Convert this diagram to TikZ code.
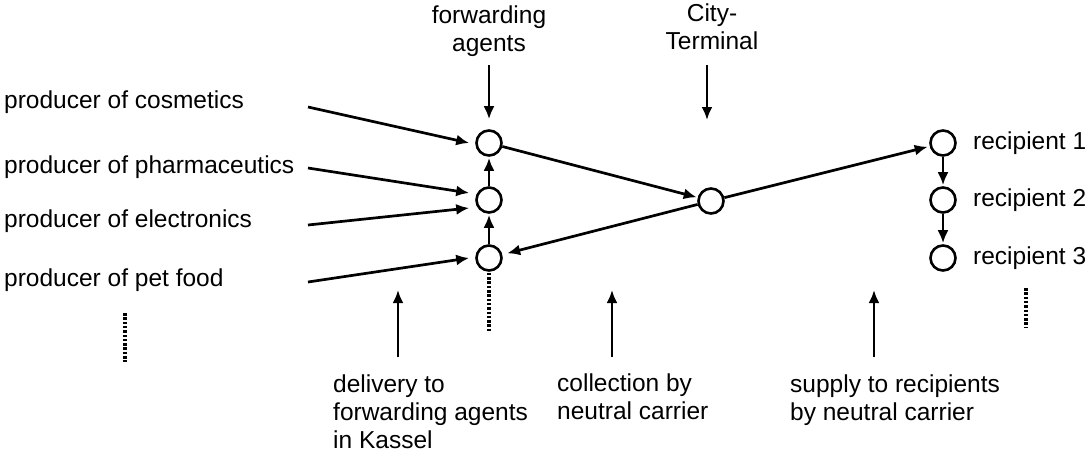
\documentclass[tikz,border=0pt]{standalone}
\usepackage{fontspec}
\setmainfont{Liberation Sans}
\usetikzlibrary{arrows.meta,calc}
\begin{document}
\begin{tikzpicture}[x=1pt,y=-1pt,
  every node/.style={font=\fontsize{24.5}{28}\selectfont, inner sep=0pt},
  hub/.style={circle, draw, line width=2.6pt, minimum size=25pt},
  arr/.style={line width=2.7pt, -{Latex[length=13pt,width=11pt]}},
  dots/.style={line width=3.5pt, dash pattern=on 2.5pt off 1.8pt},
  lab/.style={anchor=west},
  blab/.style={anchor=base west, align=left},
  tlab/.style={anchor=base, align=center}]
\fill[white] (0,0) rectangle (1090,455);
\useasboundingbox (0,0) rectangle (1090,455);

% hubs
\node[hub] (fa1) at (489,143) {};
\node[hub] (fa2) at (489,200) {};
\node[hub] (fa3) at (489,258) {};
\node[hub] (city) at (711,201) {};
\node[hub] (rec1) at (943,143) {};
\node[hub] (rec2) at (943,200) {};
\node[hub] (rec3) at (943,258) {};

% producer labels
\node[lab] (pcos) at (4,102) {producer of cosmetics};
\node[lab] (ppha) at (4,167) {producer of pharmaceutics};
\node[lab] (pele) at (4,221) {producer of electronics};
\node[lab] (ppet) at (4,280) {producer of pet food};

% recipient labels
\node[lab] (r1lab) at (973,143) {recipient 1};
\node[lab] (r2lab) at (973,200) {recipient 2};
\node[lab] (r3lab) at (973,258) {recipient 3};

% top labels (base = last line)
\node[tlab] (falab) at (489,51) {forwarding\\agents};
\node[tlab] (citylab) at (712,49) {City-\\Terminal};

% bottom labels (base = last line)
\node[blab] (b1) at (333,448) {delivery to\\forwarding agents\\in Kassel};
\node[blab] (b2) at (557,419) {collection by\\neutral carrier};
\node[blab] (b3) at (790,420) {supply to recipients\\by neutral carrier};

% free ends
\coordinate (scos) at (308,107);
\coordinate (spha) at (308,168);
\coordinate (sele) at (308,225);
\coordinate (spet) at (308,282);
\coordinate (fain) at (489,65);
\coordinate (cityin) at (707,65);
\coordinate (cityout) at (707,120);
\coordinate (u1s) at (398,357);
\coordinate (u1e) at (398,290);
\coordinate (u2s) at (612,357);
\coordinate (u2e) at (612,290);
\coordinate (u3s) at (874,357);
\coordinate (u3e) at (874,290);

% producer arrows
\draw[arr] (scos) -- ([shift={(-6,0)}]fa1.west);
\draw[arr] (spha) -- ([shift={(-6,-7)}]fa2.west);
\draw[arr] (sele) -- ([shift={(-6,8)}]fa2.west);
\draw[arr] (spet) -- ([shift={(-6,0)}]fa3.west);

% forwarding agents chain
\draw[arr, shorten >=1pt] (fa3) -- (fa2);
\draw[arr, shorten >=1pt] (fa2) -- (fa1);

% to and from city terminal
\draw[arr, shorten >=1pt] (fa1) -- (city);
\draw[arr, shorten >=5pt] (city) -- (fa3);
\draw[arr, shorten >=2pt] (city) -- (rec1);

% recipients chain
\draw[arr, shorten >=1pt] (rec1) -- (rec2);
\draw[arr, shorten >=1pt] (rec2) -- (rec3);

% top arrows
\draw[arr] (fain) -- ([yshift=10pt]fa1.north);
\draw[arr] (cityin) -- (cityout);

% bottom arrows
\draw[arr] (u1s) -- (u1e);
\draw[arr] (u2s) -- (u2e);
\draw[arr] (u3s) -- (u3e);

% dotted continuation marks
\draw[dots] ([yshift=-1pt]fa3.south) -- (489,332);
\draw[dots] (125,313) -- (125,362);
\draw[dots] (1026,288) -- (1026,328);
\end{tikzpicture}
\end{document}
